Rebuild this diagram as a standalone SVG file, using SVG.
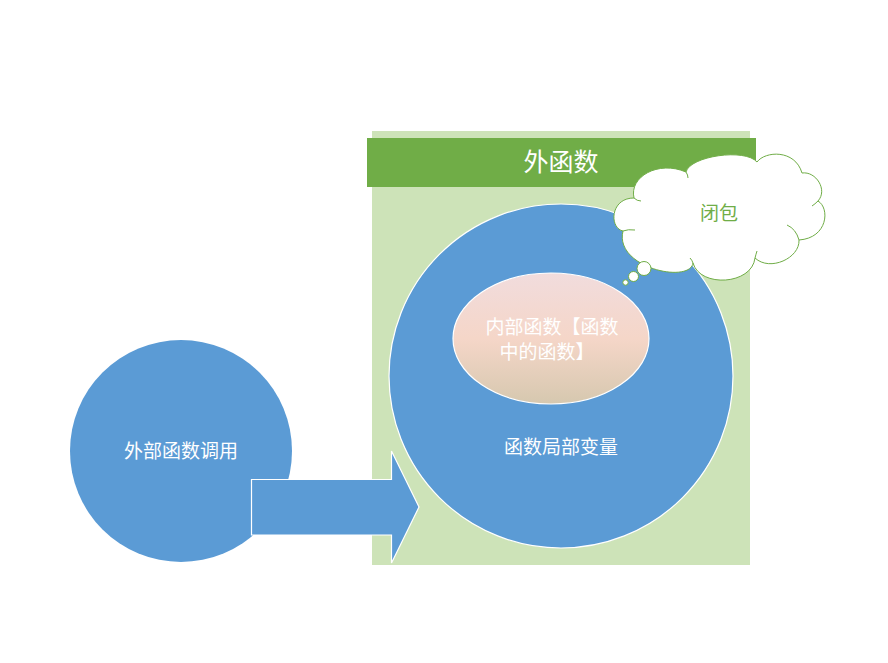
<svg xmlns="http://www.w3.org/2000/svg" width="888" height="663" viewBox="0 0 888 663">
  <defs>
    <linearGradient id="innerGrad" x1="0" y1="0" x2="0" y2="1">
      <stop offset="0" stop-color="#f1dcdd"/>
      <stop offset="0.5" stop-color="#f5d6c8"/>
      <stop offset="1" stop-color="#d6c8af"/>
    </linearGradient>
    <style>
      .blue { fill: #5b9bd5; stroke: #ffffff; stroke-width: 1.2; }
      .txt { font-family: "Noto Sans CJK SC", "Liberation Serif", serif; fill: #ffffff; text-anchor: middle; font-size: 19px; }
      .cloud { fill: #ffffff; stroke: #70ad47; stroke-width: 1; }
      .inner { fill: none; stroke: #70ad47; stroke-width: 1; }
    </style>
  </defs>
  <rect width="888" height="663" fill="#ffffff"/>

  <g id="outer-func">
    <rect x="372" y="131" width="378" height="434" fill="#cde3b8"/>
    <rect x="367" y="138" width="389" height="49" fill="#70ad47"/>
    <text class="txt" x="561" y="171" style="font-size:25px">外函数</text>
  </g>

  <g id="local-vars">
    <circle class="blue" cx="561" cy="376" r="172"/>
    <text class="txt" x="561" y="454">函数局部变量</text>
  </g>

  <g id="inner-func">
    <ellipse cx="551" cy="338.5" rx="98" ry="65.5" fill="url(#innerGrad)" stroke="#ffffff" stroke-width="1.2"/>
    <text class="txt" x="552" y="334">内部函数【函数</text>
    <text class="txt" x="547" y="359">中的函数】</text>
  </g>

  <g id="caller">
    <circle cx="181" cy="451" r="111" fill="#5b9bd5"/>
    <text class="txt" x="181" y="458">外部函数调用</text>
  </g>

  <g id="connectors">
    <path class="blue" d="M251.5,479.5 H391.5 V451 L419,507 L391.5,563 V535 H251.5 Z"/>
  </g>

  <g id="closure">
    <path class="cloud" d="M634,198 C629,177 658,160 686,172 C690,156 745,148 757,162 C765,151 795,149 802,173 C816,171 828,190 818,201 C830,208 828,238 799,240 C800,258 770,272 755,258 C752,285 700,288 693,263 C690,284 614,268 623,231 C609,228 610,198 634,198 Z"/>
    <path class="inner" d="M634,198 Q637,201 641,201"/>
    <path class="inner" d="M686,172 Q688,175 688,178"/>
    <path class="inner" d="M818,201 Q815,204 812,206"/>
    <path class="inner" d="M787,225 Q796,229 799,240"/>
    <path class="inner" d="M755,258 Q756,254 757,251"/>
    <path class="inner" d="M693,263 Q692,260 690,258"/>
    <path class="inner" d="M623,231 Q628,229 635,230"/>
    <circle class="cloud" cx="644" cy="268.5" r="7"/>
    <circle class="cloud" cx="633.5" cy="276.5" r="5"/>
    <circle class="cloud" cx="625.5" cy="282.5" r="2.7"/>
    <text class="txt" x="719" y="220" style="fill:#70ad47">闭包</text>
  </g>
</svg>
